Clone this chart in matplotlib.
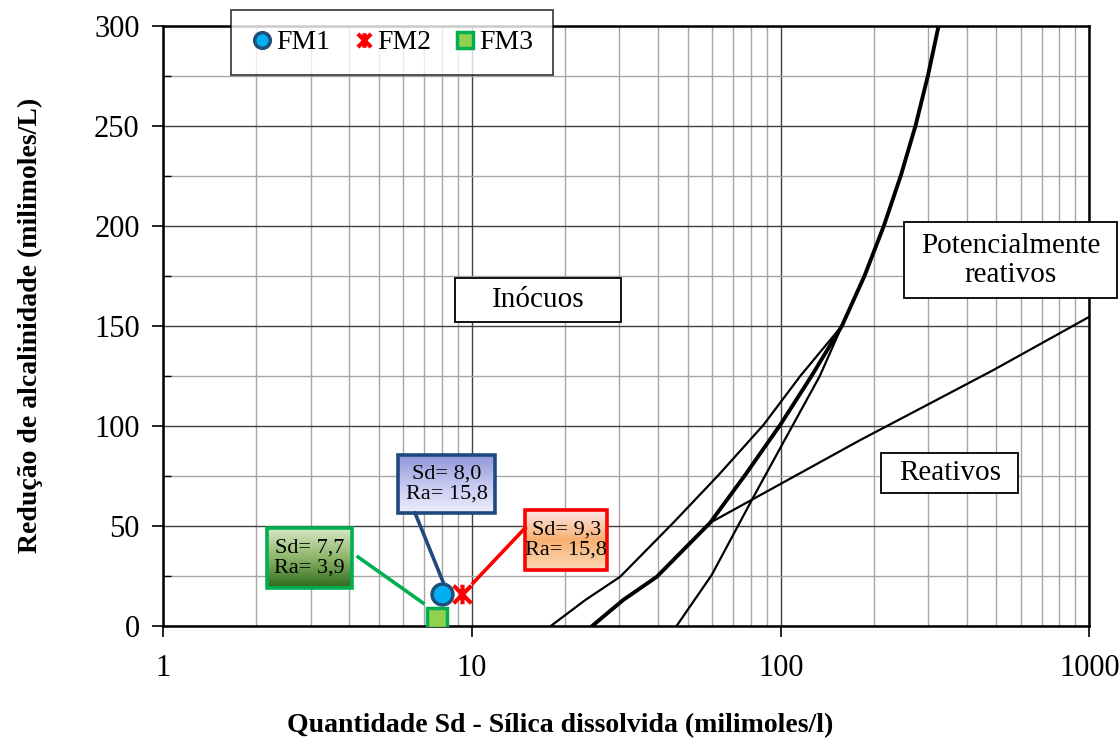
import matplotlib
matplotlib.use('Agg')
import matplotlib.pyplot as plt
import numpy as np
import matplotlib.ticker as ticker
from matplotlib.colors import to_rgb
from matplotlib.patches import Rectangle
from matplotlib.path import Path

plt.rcParams['font.family'] = ['Liberation Serif', 'DejaVu Serif']

# boundary curves (Sd, Ra)
thick_sd = [24.5, 30.9, 39.7, 59.1, 76.7, 99.6, 126, 158, 187, 216, 245, 273.5, 300, 325]
thick_ra = [0, 13, 24.6, 51.6, 75.4, 100.4, 125, 150, 175, 200, 225, 250, 275, 300]
upper_sd = [18.0, 23.3, 30.2, 44.9, 62.9, 87.9, 115.9, 158]
upper_ra = [0, 13, 24.6, 51.6, 75.4, 100.4, 125, 150]
steep_sd = [46.0, 59.8, 80.6, 99.6, 134, 158]
steep_ra = [0, 25.5, 62.9, 88.8, 125, 150]
line_sd = [59.1, 181, 297.7, 489, 1000]
line_ra = [51.6, 92.9, 110.4, 127.9, 154.5]

# samples
names = ['FM1', 'FM2', 'FM3']
sd = [8.0, 9.3, 7.7]
ra = [15.8, 15.8, 3.9]
labels = ['Sd= 8,0\nRa= 15,8', 'Sd= 9,3\nRa= 15,8', 'Sd= 7,7\nRa= 3,9']

fig = plt.figure(figsize=(11.19, 7.39), dpi=100)
ax = fig.add_axes([0.1459, 0.1529, 0.8276, 0.8125])

ax.plot(upper_sd, upper_ra, c='k', lw=1.6, zorder=3, solid_joinstyle='round')
ax.plot(steep_sd, steep_ra, c='k', lw=1.6, zorder=3, solid_joinstyle='round')
ax.plot(line_sd, line_ra, c='k', lw=1.6, zorder=3, solid_joinstyle='round')
ax.plot(thick_sd, thick_ra, c='k', lw=2.8, zorder=3, solid_joinstyle='round')

star = Path([(-1, -1), (1, 1), (-1, 1), (1, -1), (0, -1.1), (0, 1.1)],
            [Path.MOVETO, Path.LINETO, Path.MOVETO, Path.LINETO, Path.MOVETO, Path.LINETO])

ax.plot(sd[0], ra[0], 'o', ms=15, mfc='#00b0f0', mec='#1f4e79', mew=2.5, zorder=8, label=names[0])
ax.plot(sd[1], ra[1], ls='none', marker=star, ms=14, mec='#ff0000', mew=3, zorder=8, label=names[1])
ax.plot(sd[2], ra[2], 's', ms=15, mfc='#92d050', mec='#00b050', mew=2.5, zorder=8, label=names[2])


def px(x, y):
    return ((x - 163.3) / 925.7, (626 - y) / 600.5)


def grad_box(p0, p1, colors, edge, text, line_from, line_to):
    x0, y1 = px(*p0)
    x1, y0 = px(*p1)
    c = np.array([to_rgb(k) for k in colors])
    t = np.linspace(0, 1, 100)
    pos = np.linspace(0, 1, len(c))
    img = np.stack([np.interp(t, pos, c[:, i]) for i in range(3)], axis=-1)[:, None, :]
    ax.imshow(img, extent=(x0, x1, y0, y1), transform=ax.transAxes,
              aspect='auto', zorder=6, interpolation='bilinear', origin='upper')
    ax.add_patch(Rectangle((x0, y0), x1 - x0, y1 - y0, transform=ax.transAxes, fill=False,
                           edgecolor=edge, lw=2.6, zorder=7))
    ax.text((x0 + x1) / 2, (y0 + y1) / 2, text, transform=ax.transAxes, ha='center',
            va='center', fontsize=16, zorder=7, linespacing=1.1)
    a, b = px(*line_from), px(*line_to)
    ax.plot([a[0], b[0]], [a[1], b[1]], c=edge, lw=2.6, transform=ax.transAxes, zorder=6)


grad_box((398, 455), (495, 513), ['#9096d8', '#c4c8f0', '#eceefc'], '#1f497d',
         labels[0], (415, 513), (443, 582))
grad_box((525, 510), (607, 570), ['#fde6ea', '#f8b070', '#fbd9b8'], '#ff0000',
         labels[1], (525, 528), (473, 583))
grad_box((267, 528), (352, 588), ['#d8e8c4', '#8cb56a', '#2e6a1c'], '#00b050',
         labels[2], (358, 557), (423, 603))


def region(p0, p1, text):
    x0, y1 = px(*p0)
    x1, y0 = px(*p1)
    ax.add_patch(Rectangle((x0, y0), x1 - x0, y1 - y0, transform=ax.transAxes, facecolor='white',
                           edgecolor='k', lw=1.3, zorder=5, clip_on=False))
    ax.text((x0 + x1) / 2, (y0 + y1) / 2, text, transform=ax.transAxes, ha='center',
            va='center', fontsize=21, zorder=6, linespacing=1.15)


region((455, 278), (621, 322), 'Inócuos')
region((904, 222), (1117, 298), 'Potencialmente\nreativos')
region((881, 453), (1018, 493), 'Reativos')

ax.set_xscale('log')
ax.set_xlim(1, 1000)
ax.set_ylim(0, 300)
ax.set_autoscale_on(False)

ax.xaxis.set_major_locator(ticker.LogLocator(base=10))
ax.xaxis.set_minor_locator(ticker.LogLocator(base=10, subs=np.arange(2, 10)))
ax.xaxis.set_major_formatter(ticker.FuncFormatter(lambda v, p: f'{v:g}'))
ax.xaxis.set_minor_formatter(ticker.NullFormatter())
ax.yaxis.set_major_locator(ticker.MultipleLocator(50))
ax.yaxis.set_minor_locator(ticker.MultipleLocator(25))

ax.grid(which='major', color='#404040', lw=1.0, zorder=0)
ax.grid(which='minor', color='#a6a6a6', lw=1.0, zorder=0)
ax.set_axisbelow(True)

ax.tick_params(axis='x', which='major', direction='out', length=8, width=1.2, pad=12, labelsize=22)
ax.tick_params(axis='x', which='minor', length=0)
ax.tick_params(axis='y', which='major', direction='out', length=8, width=1.2, pad=9, labelsize=22)
ax.tick_params(axis='y', which='minor', direction='in', length=6, width=1)
for s in ax.spines.values():
    s.set_linewidth(1.8)
    s.set_zorder(4)

ax.set_xlabel('Quantidade Sd - Sílica dissolvida (milimoles/l)', fontsize=20,
              fontweight='bold', labelpad=22)
ax.xaxis.label.set_x(0.4285)
ax.set_ylabel('Redução de alcalinidade (milimoles/L)', fontsize=20,
              fontweight='bold', labelpad=37)

leg = ax.legend(loc='center', bbox_to_anchor=(0.0748, 0.9147, 0.3445, 0.1137),
                bbox_transform=ax.transAxes, ncol=3, fontsize=20, frameon=True,
                fancybox=False, edgecolor='k', handlelength=0.8, handletextpad=0.1,
                columnspacing=0.8, borderpad=0.72, markerscale=0.75)
leg.get_frame().set_linewidth(1.2)
leg.set_zorder(10)

fig.savefig('out.png', dpi=100)
